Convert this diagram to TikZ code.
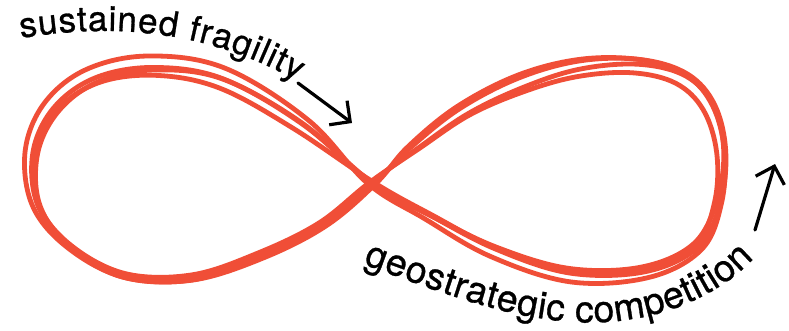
\documentclass[tikz,border=0pt]{standalone}
\usepackage{fontspec}
\setmainfont{TeX Gyre Heros}[FakeBold=0.8]
\usetikzlibrary{arrows.meta,decorations.text}
\definecolor{loopred}{RGB}{240,78,55}
\tikzset{
  loopline/.style={draw=loopred, line width=4.8pt, line join=round, line cap=round},
  pointer/.style={draw=black, line width=3.2pt, line cap=round,
    -{Straight Barb[length=15pt,width=30pt]}},
  pathlabel/.style={decorate, decoration={text along path, text align={fit to path}, text={#1}}},
}
% middle line of the figure-eight: crossing, right lobe, crossing, left lobe
\def\guidepts{372/183, 430/216, 495/250, 570/274, 645/272, 697/247, 718/203,
  722/152, 710/107, 683/78, 638/65, 580/67, 522/83, 464/111, 414/148,
  372/183, 322/224, 260/255, 192/277, 124/275, 69/246, 36/205, 31/152,
  52/107, 94/77, 153/67, 222/79, 300/124}
\begin{document}
\begin{tikzpicture}[x=1pt,y=-1pt]
  \path[fill=white,use as bounding box] (0,0) rectangle (789,330);

  % several loose, hand-drawn passes around the loop: each pass is pushed
  % outwards from its lobe centre by a wavering amount
  \foreach \a/\b/\f/\p in {-7/5/23/0, -2/6/37/140, 3/5/17/250, 8/5.5/29/60}{
    \gdef\passpts{}
    \foreach \gx/\gy [count=\i from 0] in \guidepts {
      \pgfmathsetmacro\lobex{\i<15 ? 555 : 195}
      \pgfmathsetmacro\lobey{\i<15 ? 170 : 172}
      \pgfmathsetmacro\qdx{\gx-\lobex}
      \pgfmathsetmacro\qdy{\gy-\lobey}
      \pgfmathsetmacro\qlen{veclen(\qdx,\qdy)}
      \pgfmathsetmacro\qoff{(\a+\b*sin(\f*\i+\p))*(0.35+0.65*abs(sin(12*\i)))}
      \pgfmathsetmacro\qx{\gx+\qoff*\qdx/\qlen}
      \pgfmathsetmacro\qy{\gy+\qoff*\qdy/\qlen}
      \xdef\passpts{\passpts (\qx,\qy)}
    }
    \edef\drawpass{\noexpand\draw[loopline] plot[smooth cycle, tension=0.6] coordinates {\passpts};}
    \drawpass
  }

  % curved labels
  \path[pathlabel={|\fontsize{35}{36}\selectfont|sustained fragility}]
    (21,38) .. controls (100,25) and (198,25) .. (297,81);
  \path[pathlabel={|\fontsize{37.5}{38}\selectfont|geostrategic competition}]
    (363,264) .. controls (440,292) and (505,318) .. (575,322)
    .. controls (650,326) and (716,299) .. (754,258);

  % direction arrows
  \coordinate (topTail) at (298,83);
  \coordinate (topHead) at (352,123);
  \coordinate (rightTail) at (755,230);
  \coordinate (rightHead) at (775,164);
  \draw[pointer] (topTail) -- (topHead);
  \draw[pointer] (rightTail) -- (rightHead);
\end{tikzpicture}
\end{document}
